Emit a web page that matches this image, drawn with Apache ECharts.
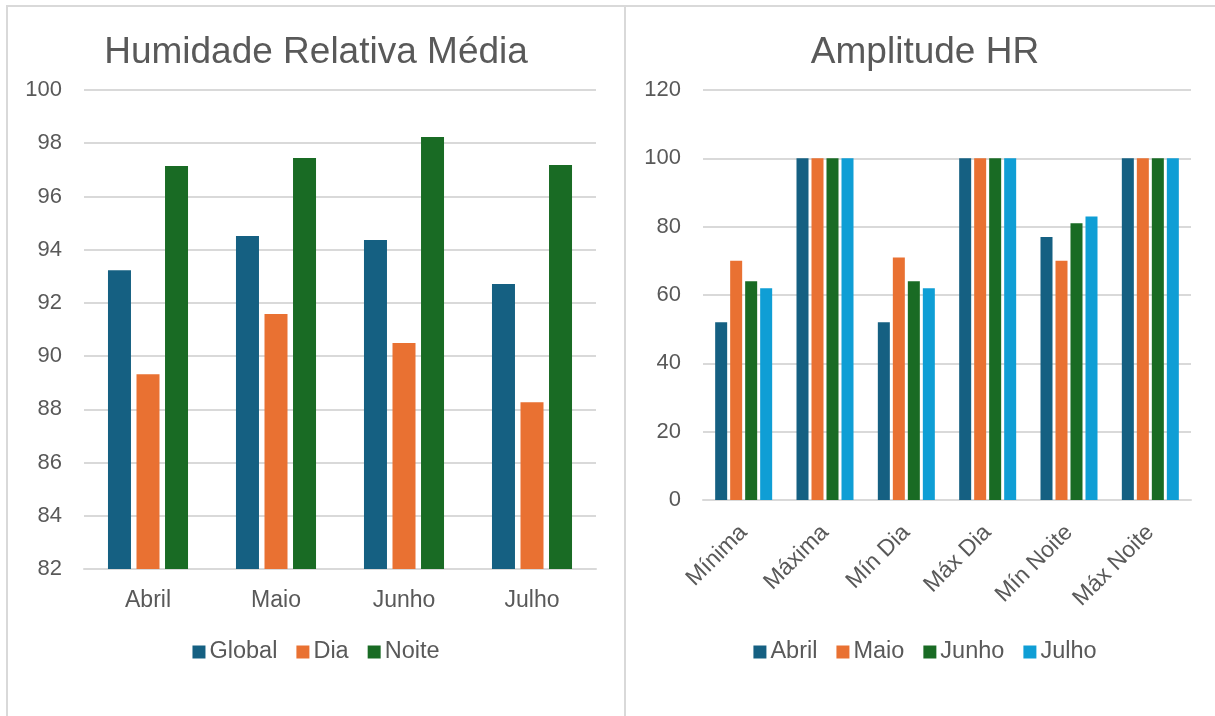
<!DOCTYPE html>
<html>
<head>
<meta charset="utf-8">
<script src="https://cdn.jsdelivr.net/npm/echarts@6/dist/echarts.min.js"></script>
<style>
  html, body { margin: 0; padding: 0; background: #ffffff; }
  body { width: 1215px; height: 716px; position: relative; overflow: hidden; }
  .chart { position: absolute; top: 0; height: 716px; }
  #c1 { left: 7px; width: 618px; }
  #c2 { left: 625px; width: 600px; }
  .ln { position: absolute; background: #D9D9D9; }
</style>
</head>
<body>
<div id="c1" class="chart"></div>
<div id="c2" class="chart"></div>
<div class="ln" style="left:6px;top:5px;width:1209px;height:2px;"></div>
<div class="ln" style="left:6px;top:5px;width:2px;height:711px;"></div>
<div class="ln" style="left:624px;top:5px;width:2px;height:711px;"></div>
<script>
// ---------- Data: Humidade Relativa Média ----------
const months = ['Abril', 'Maio', 'Junho', 'Julho'];
const globalVals = [93.23, 94.51, 94.36, 92.71];
const diaVals = [89.32, 91.58, 90.49, 88.27];
const noiteVals = [97.14, 97.44, 98.23, 97.18];
const leftSeriesNames = ['Global', 'Dia', 'Noite'];

// ---------- Data: Amplitude HR ----------
const ampCategories = ['Mínima', 'Máxima', 'Mín Dia', 'Máx Dia', 'Mín Noite', 'Máx Noite'];
const abrilVals = [52, 100, 52, 100, 77, 100];
const maioVals = [70, 100, 71, 100, 70, 100];
const junhoVals = [64, 100, 64, 100, 81, 100];
const julhoVals = [62, 100, 62, 100, 83, 100];
const rightSeriesNames = ['Abril', 'Maio', 'Junho', 'Julho'];

const COLORS = ['#156082', '#E97132', '#196B24', '#0F9ED5'];
const TXT = '#595959';
const GRID = '#D9D9D9';
const FONT = '"Liberation Sans", Arial, sans-serif';

function baseOption(titleText) {
  return {
    animation: false,
    textStyle: { fontFamily: FONT },
    title: {
      text: titleText, left: 'center', top: 34, padding: 0,
      textStyle: { fontFamily: FONT, fontSize: 37, fontWeight: 'normal', color: TXT }
    },
    legend: {
      left: 'center', top: 640, padding: 0,
      itemWidth: 13, itemHeight: 13, itemGap: 19,
      icon: 'rect',
      textStyle: { fontFamily: FONT, fontSize: 23.5, color: TXT, padding: [0, 0, 0, -1] }
    }
  };
}

// ---------- Left chart ----------
const c1 = echarts.init(document.getElementById('c1'), null, { renderer: 'canvas' });
const leftData = [globalVals, diaVals, noiteVals];
const opt1 = baseOption('Humidade Relativa Média');
opt1.legend.data = leftSeriesNames;
opt1.grid = { left: 77, right: 29, top: 90, bottom: 147, containLabel: false };
opt1.xAxis = {
  type: 'category', data: months,
  axisLine: { lineStyle: { color: GRID, width: 2 } },
  axisTick: { show: false },
  axisLabel: { color: TXT, fontSize: 23, fontFamily: FONT, margin: 20 }
};
opt1.yAxis = {
  type: 'value', min: 82, max: 100, interval: 2,
  axisLine: { show: false }, axisTick: { show: false },
  splitLine: { lineStyle: { color: GRID, width: 2 } },
  axisLabel: { color: TXT, fontSize: 22, fontFamily: FONT, margin: 22 }
};
opt1.series = leftSeriesNames.map((n, i) => ({
  name: n, type: 'bar', data: leftData[i],
  barWidth: 23, barGap: '24%',
  itemStyle: { color: COLORS[i] }
}));
c1.setOption(opt1);

// ---------- Right chart ----------
const c2 = echarts.init(document.getElementById('c2'), null, { renderer: 'canvas' });
const rightData = [abrilVals, maioVals, junhoVals, julhoVals];
const opt2 = baseOption('Amplitude HR');
opt2.legend.data = rightSeriesNames;
opt2.grid = { left: 78, right: 34, top: 90, bottom: 216, containLabel: false };
opt2.xAxis = {
  type: 'category', data: ampCategories,
  axisLine: { lineStyle: { color: GRID, width: 2 } },
  axisTick: { show: false },
  axisLabel: { color: TXT, fontSize: 23, fontFamily: FONT, rotate: 45, margin: 29, interval: 0 }
};
opt2.yAxis = {
  type: 'value', min: 0, max: 120, interval: 20,
  axisLine: { show: false }, axisTick: { show: false },
  splitLine: { lineStyle: { color: GRID, width: 2 } },
  axisLabel: { color: TXT, fontSize: 22, fontFamily: FONT, margin: 22 }
};
opt2.series = rightSeriesNames.map((n, i) => ({
  name: n, type: 'bar', data: rightData[i],
  barWidth: 12, barGap: '25%',
  itemStyle: { color: COLORS[i] }
}));
c2.setOption(opt2);
</script>
</body>
</html>
